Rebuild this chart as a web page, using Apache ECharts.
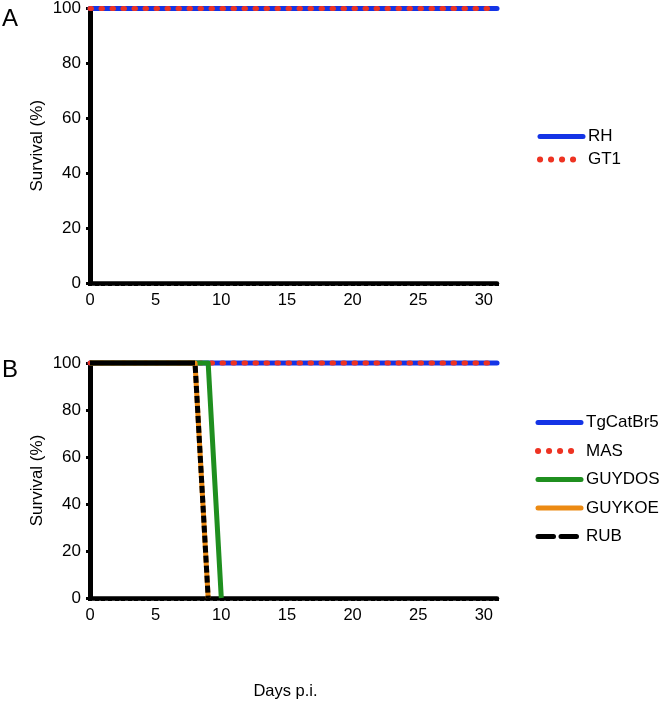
<!DOCTYPE html>
<html>
<head>
<meta charset="utf-8">
<script src="https://cdn.jsdelivr.net/npm/echarts@6/dist/echarts.min.js"></script>
<style>
html,body{margin:0;padding:0;background:#fff;}
#chart{width:669px;height:706px;}
</style>
</head>
<body>
<div id="chart"></div>
<script>
// ---- data ----
const xTicks = [0, 5, 10, 15, 20, 25, 30];
const yTicks = [0, 20, 40, 60, 80, 100];
// Panel A
const rhDays = [0, 31];
const rhSurv = [100, 100];
const gt1Days = [0, 31];
const gt1Surv = [100, 100];
// Panel B
const tgDays = [0, 31];
const tgSurv = [100, 100];
const masDays = [0, 31];
const masSurv = [100, 100];
const guydosDays = [0, 9, 10];
const guydosSurv = [100, 100, 0];
const guykoeDays = [0, 8, 9];
const guykoeSurv = [100, 100, 0];
const rubDays = [0, 8, 9];
const rubSurv = [100, 100, 0];

const pair = (d, s) => d.map((v, i) => [v, s[i]]);

const FONT = '"Liberation Sans", Arial, sans-serif';
const BLUE = '#1434e6', RED = '#ee3322', GREEN = '#1f8f1f', ORANGE = '#ec8a12', BLACK = '#000';

function xAxisCfg(idx, withName) {
  return {
    type: 'value', gridIndex: idx, min: 0, max: 31, interval: 5,
    axisLine: {show: true, lineStyle: {color: '#000', width: 4.5}},
    axisTick: {show: true, length: 3, lineStyle: {color: '#000', width: 4}},
    minorTick: {show: true, splitNumber: 10, length: 3, lineStyle: {color: '#000', width: 4}},
    splitLine: {show: false},
    axisLabel: {color: '#000', fontSize: 16.5, fontFamily: FONT, margin: 9,
      formatter: v => xTicks.includes(v) ? String(v) : ''},
    name: withName ? 'Days p.i.' : '',
    nameLocation: 'middle', nameGap: 85,
    nameTextStyle: {color: '#000', fontSize: 16.5, fontFamily: FONT, padding: [0, 16, 0, 0]}
  };
}
function yAxisCfg(idx) {
  return {
    type: 'value', gridIndex: idx, min: 0, max: 100, interval: 20,
    axisLine: {show: true, lineStyle: {color: '#000', width: 5}},
    axisTick: {show: true, length: 4, lineStyle: {color: '#000', width: 3}},
    splitLine: {show: false},
    axisLabel: {color: '#000', fontSize: 17, fontFamily: FONT, margin: 9,
      formatter: v => yTicks.includes(v) ? String(v) : ''},
    name: 'Survival (%)', nameLocation: 'middle', nameGap: 44, nameMoveOverlap: false,
    nameTextStyle: {color: '#000', fontSize: 17, fontFamily: FONT}
  };
}
function lineSeries(name, xi, data, color, type, cap, z) {
  return {
    name, type: 'line', xAxisIndex: xi, yAxisIndex: xi, data,
    symbol: 'none', showSymbol: false, clip: false, animation: false, z: z,
    lineStyle: {color, width: 5, type, cap: cap, join: 'round'},
    itemStyle: {color}
  };
}
const DOT = [1.5, 9.5];
// solid along the plateau, then short dashes along the drop
const RUB_DASH = [105, 3].concat(Array(30).fill([7, 3]).flat());

const noSym = {color: 'rgba(0,0,0,0)', borderWidth: 0, opacity: 0};
const legendText = {color: '#000', fontSize: 17, fontFamily: FONT};
const option = {
  backgroundColor: '#fff',
  animation: false,
  grid: [
    {left: 90, right: 172, top: 8, bottom: 423},
    {left: 90, right: 172, top: 363, bottom: 108}
  ],
  xAxis: [xAxisCfg(0, false), xAxisCfg(1, true)],
  yAxis: [yAxisCfg(0), yAxisCfg(1)],
  legend: [
    {
      left: 532, top: 123, orient: 'vertical', itemWidth: 43, itemHeight: 14, itemGap: 6,
      textStyle: legendText,
      data: [
        {name: 'RH', itemStyle: noSym, lineStyle: {width: 5, type: 'solid', cap: 'round', color: BLUE}},
        {name: 'GT1', itemStyle: noSym, lineStyle: {width: 6, type: [0.1, 10.9], cap: 'round', color: RED}}
      ]
    },
    {
      left: 530, top: 409, orient: 'vertical', itemWidth: 43, itemHeight: 14, itemGap: 11.5,
      textStyle: legendText,
      data: [
        {name: 'TgCatBr5', itemStyle: noSym, lineStyle: {width: 5, type: 'solid', cap: 'round', color: BLUE}},
        {name: 'MAS', itemStyle: noSym, lineStyle: {width: 6, type: [0.1, 10.9], cap: 'round', color: RED}},
        {name: 'GUYDOS', itemStyle: noSym, lineStyle: {width: 5, type: 'solid', cap: 'round', color: GREEN}},
        {name: 'GUYKOE', itemStyle: noSym, lineStyle: {width: 5, type: 'solid', cap: 'round', color: ORANGE}},
        {name: 'RUB', itemStyle: noSym, lineStyle: {width: 5, type: [15.5, 7.5], cap: 'round', color: BLACK}}
      ]
    }
  ],
  graphic: [
    {type: 'text', left: 2, top: 7, style: {text: 'A', fontSize: 24, fontFamily: FONT, fill: '#000'}},
    {type: 'text', left: 2, top: 358, style: {text: 'B', fontSize: 24, fontFamily: FONT, fill: '#000'}}
  ],
  series: [
    lineSeries('RH', 0, pair(rhDays, rhSurv), BLUE, 'solid', 'round', 2),
    lineSeries('GT1', 0, pair(gt1Days, gt1Surv), RED, DOT, 'round', 3),
    lineSeries('TgCatBr5', 1, pair(tgDays, tgSurv), BLUE, 'solid', 'round', 2),
    lineSeries('MAS', 1, pair(masDays, masSurv), RED, DOT, 'round', 3),
    lineSeries('GUYDOS', 1, pair(guydosDays, guydosSurv), GREEN, 'solid', 'butt', 4),
    lineSeries('GUYKOE', 1, pair(guykoeDays, guykoeSurv), ORANGE, 'solid', 'butt', 5),
    lineSeries('RUB', 1, pair(rubDays, rubSurv), BLACK, RUB_DASH, 'butt', 6)
  ]
};
const chart = echarts.init(document.getElementById('chart'), null, {renderer: 'canvas'});
chart.setOption(option);
</script>
</body>
</html>
